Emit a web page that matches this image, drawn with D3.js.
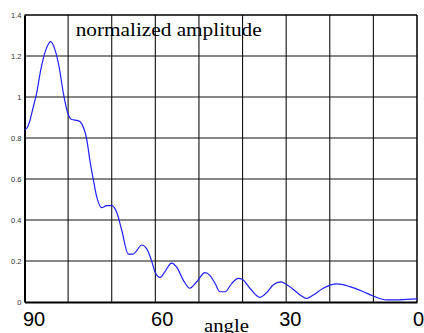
<!DOCTYPE html>
<html>
<head>
<meta charset="utf-8">
<script src="https://cdn.jsdelivr.net/npm/d3@7"></script>
<style>
  html, body { margin: 0; padding: 0; background: #fff; }
  svg { display: block; }
</style>
</head>
<body>
<div id="chart"></div>
<script>
// angle (deg) vs normalized amplitude
var angles = [90, 89.4, 88.7, 88, 87.2, 86.3, 85.1, 84, 83, 82,
              81.1, 80.2, 79.2, 77.7, 76.9, 75.7, 75, 74.2, 73.4, 72.3,
              71.2, 70, 68.9, 67.7, 66.2, 65.1, 63.1, 62, 60.8, 60.1,
              58.9, 57.8, 56.3, 55.1, 53.6, 52.1, 50.5, 48.6, 47.5, 46.3,
              45.2, 44, 42.5, 41, 40, 38.3, 36, 34.5, 33, 31.2,
              30.3, 28.7, 26.8, 25.3, 23.8, 21.5, 18.4, 15.4, 12.3, 10,
              7, 4.7, 2.4, 0];
var amplitude = [0.84, 0.85, 0.89, 0.95, 1.02, 1.13, 1.23, 1.27, 1.23, 1.14,
                 1.02, 0.93, 0.89, 0.885, 0.87, 0.79, 0.69, 0.595, 0.51, 0.46,
                 0.47, 0.47, 0.44, 0.35, 0.234, 0.234, 0.278, 0.26, 0.197, 0.148,
                 0.12, 0.148, 0.19, 0.17, 0.107, 0.067, 0.099, 0.143, 0.13, 0.09,
                 0.05, 0.05, 0.09, 0.115, 0.11, 0.067, 0.023, 0.045, 0.083, 0.098,
                 0.09, 0.067, 0.034, 0.017, 0.034, 0.067, 0.088, 0.075, 0.05, 0.029,
                 0.01, 0.01, 0.013, 0.015];
var yTicks = [0, 0.2, 0.4, 0.6, 0.8, 1, 1.2, 1.4];
var xGrid = [90, 80, 70, 60, 50, 40, 30, 20, 10, 0];
var xLabels = [90, 60, 30, 0];
var title = "normalized amplitude";
var xTitle = "angle";

var W = 424, H = 333;
var pLeft = 24.5, pRight = 417, pTop = 15, pBottom = 302;

var x = d3.scaleLinear().domain([90, 0]).range([pLeft, pRight]);
var y = d3.scaleLinear().domain([0, 1.4]).range([pBottom, pTop]);

var svg = d3.select('#chart').append('svg')
    .attr('width', W).attr('height', H);

// grid
svg.append('g').selectAll('line').data(yTicks.slice(1, -1)).join('line')
    .attr('x1', pLeft).attr('x2', pRight)
    .attr('y1', d => y(d)).attr('y2', d => y(d))
    .attr('stroke', '#111').attr('stroke-width', 1.1);
svg.append('g').selectAll('line').data(xGrid.slice(1, -1)).join('line')
    .attr('x1', d => x(d)).attr('x2', d => x(d))
    .attr('y1', pTop).attr('y2', pBottom)
    .attr('stroke', '#111').attr('stroke-width', 1.1);

// frame
svg.append('line').attr('x1', pLeft).attr('x2', pRight).attr('y1', pTop).attr('y2', pTop)
    .attr('stroke', '#000').attr('stroke-width', 1.5);
svg.append('line').attr('x1', pRight).attr('x2', pRight).attr('y1', pTop).attr('y2', pBottom)
    .attr('stroke', '#000').attr('stroke-width', 1.5);

var yAxis = svg.append('g')
    .attr('transform', 'translate(' + pLeft + ',0)')
    .call(d3.axisLeft(y).tickValues(yTicks).tickSize(0).tickPadding(3)
        .tickFormat(d3.format('~g')));
yAxis.select('.domain').attr('stroke', '#000').attr('stroke-width', 2);
yAxis.selectAll('text').attr('font-family', 'Liberation Sans, Arial, sans-serif')
    .attr('font-size', 7.5).attr('fill', '#333');

var xAxis = svg.append('g')
    .attr('transform', 'translate(0,' + pBottom + ')')
    .call(d3.axisBottom(x).tickValues(xLabels).tickSize(0).tickPadding(0));
xAxis.select('.domain').attr('stroke', '#000').attr('stroke-width', 2);
xAxis.selectAll('text')
    .attr('font-family', 'Liberation Sans, Arial, sans-serif')
    .attr('font-size', 20).attr('fill', '#000')
    .attr('y', 24).attr('dy', 0)
    .attr('dx', d => 1 + 8 * d / 90);

// data line
var line = d3.line()
    .x(function(d) { return x(d[0]); })
    .y(function(d) { return y(d[1]); })
    .curve(d3.curveMonotoneX);
svg.append('path')
    .datum(angles.map((a, i) => [a, amplitude[i]]))
    .attr('d', line)
    .attr('fill', 'none')
    .attr('stroke', '#1f1fff')
    .attr('stroke-width', 1.2);

// titles
svg.append('text').text(title)
    .attr('x', 75.7).attr('y', 36)
    .attr('font-family', 'Liberation Serif, Times New Roman, serif')
    .attr('font-size', 19)
    .attr('textLength', 186).attr('lengthAdjust', 'spacingAndGlyphs');
svg.append('text').text(xTitle)
    .attr('x', 204).attr('y', 332)
    .attr('font-family', 'Liberation Serif, Times New Roman, serif')
    .attr('font-size', 19)
    .attr('textLength', 45).attr('lengthAdjust', 'spacingAndGlyphs');
</script>
</body>
</html>
